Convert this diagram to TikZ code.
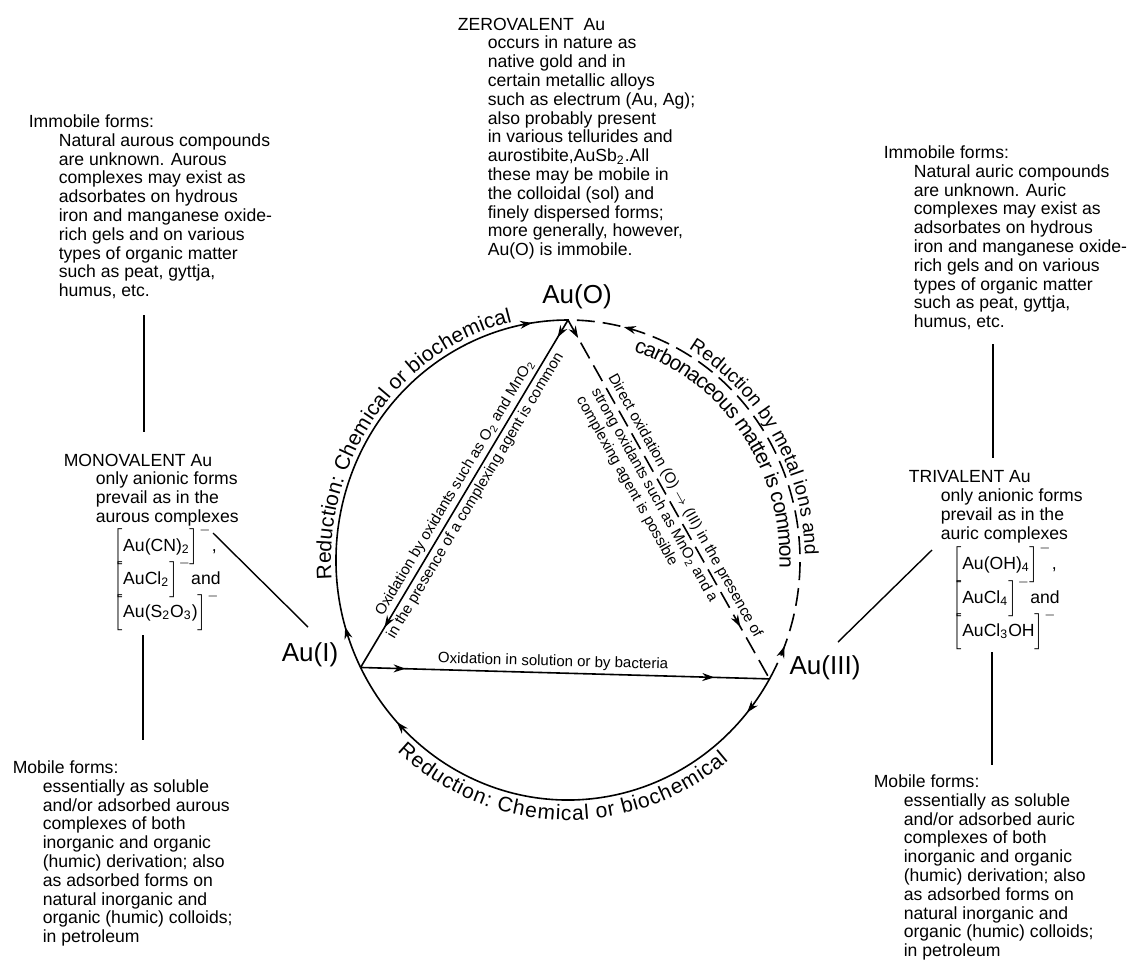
\documentclass[tikz,border=0pt]{standalone}
\usepackage{fontspec}
\setmainfont{Liberation Sans}
\usetikzlibrary{decorations.text,decorations.markings,arrows.meta,calc}
\newcommand\blkind{\hspace*{15pt}}
\newcommand\blkindb{\hspace*{16pt}}
\begin{document}
\begin{tikzpicture}[x=0.5pt,y=0.5pt,line width=0.8pt,
  blk/.style={font=\fontsize{8.8}{9.4}\selectfont, align=left, inner sep=0pt, anchor=north west},
  frm/.style={font=\fontsize{8.8}{9.4}\selectfont, inner sep=0pt, anchor=west},
  big/.style={font=\fontsize{13}{15}\selectfont, inner sep=0pt},
  ctxt/.style={font=\fontsize{7.5}{8.6}\selectfont, inner sep=1.5pt, sloped},
  conn/.style={line width=0.7pt},
  marr/.style={postaction={decorate,decoration={markings,mark=at position #1 with {\arrow{Stealth[length=6pt,width=4pt]}}}}},
  dsh/.style={dash pattern=on 9pt off 4pt},
]
\useasboundingbox (0,0) rectangle (1129,-976);
\coordinate (C) at (568,-560);
\coordinate (A0) at ($(C)+(90:232 and 240)$);
\coordinate (A1) at ($(C)+(206.6:232 and 240)$);
\coordinate (A3) at ($(C)+(330.3:232 and 240)$);

% arcs
\draw[marr=0.09, marr=0.925] (A1) arc[start angle=206.6, end angle=90, x radius=232, y radius=240];
\draw[dsh, marr=0.073, marr=0.886] (A3) arc[start angle=-29.7, end angle=90, x radius=232, y radius=240];
\draw[marr=0.08, marr=0.87] (A3) arc[start angle=330.3, end angle=206.6, x radius=232, y radius=240];

% chords
\draw[marr=0.05, marr=0.885] (A0) -- (A1);
\draw[dsh, marr=0.05, marr=0.855] (A0) -- (A3);
\draw[marr=0.11, marr=0.865] (A1) -- (A3);

% arc texts
\path[decorate, decoration={text along path, text={|\fontsize{10.5}{12}\selectfont|Reduction: Chemical or biochemical}, text align={left indent=46pt}, raise=2.5pt}]
  (A1) arc[start angle=206.6, end angle=90, x radius=232, y radius=240];
\path[decorate, decoration={text along path, text={|\fontsize{10.5}{12}\selectfont|Reduction: Chemical or biochemical}, text align=center, raise=-10pt}]
  (A1) arc[start angle=206.6, end angle=330.3, x radius=232, y radius=240];
\path[decorate, decoration={text along path, text={|\fontsize{9.6}{12}\selectfont|Reduction by metal ions and}, text align={left indent=62pt}, raise=2.5pt}]
  (A0) arc[start angle=90, end angle=-29.7, x radius=232, y radius=240];
\path[decorate, decoration={text along path, text={|\fontsize{10.5}{12}\selectfont|carbonaceous matter is common}, text align={left indent=37pt}, raise=-10.2pt}]
  (A0) arc[start angle=90, end angle=-29.7, x radius=232, y radius=240];

% chord texts
\path (A1) -- (A0)
  node[ctxt, pos=0.5, above] (lc1) {Oxidation by oxidants such as O\textsubscript{2} and MnO\textsubscript{2}}
  node[ctxt, pos=0.51, below] (lc2) {in the presence of a complexing agent is common};
\path (A0) -- (A3)
  node[ctxt, pos=0.16, anchor=south west] (rc1) {Direct oxidation (O) $\rightarrow$ (III) in the presence of}
  node[ctxt, pos=0.17, anchor=north west, align=left] (rc2) {strong oxidants such as MnO\textsubscript{2} and a\\complexing agent is possible};
\path (A1) -- (A3)
  node[ctxt, pos=0.47, above] (bc) {Oxidation in solution or by bacteria};

% big labels
\node[big] (au0) at (577,-297) {Au(O)};
\node[big] (au1) at (310,-655) {Au(I)};
\node[big] (au3) at (825,-668) {Au(III)};

% text blocks
\node[blk] (zero) at (457,-17) {ZEROVALENT\ \ Au\\
\blkind occurs in nature as\\
\blkind native gold and in\\
\blkind certain metallic alloys\\
\blkind such as electrum (Au, Ag);\\
\blkind also probably present\\
\blkind in various tellurides and\\
\blkind aurostibite,AuSb\textsubscript{2}.All\\
\blkind these may be mobile in\\
\blkind the colloidal (sol) and\\
\blkind finely dispersed forms;\\
\blkind more generally, however,\\
\blkind Au(O) is immobile.};

\node[blk] (limm) at (28,-114) {Immobile forms:\\
\blkind Natural aurous compounds\\
\blkind are unknown. Aurous\\
\blkind complexes may exist as\\
\blkind adsorbates on hydrous\\
\blkind iron and manganese oxide-\\
\blkind rich gels and on various\\
\blkind types of organic matter\\
\blkind such as peat, gyttja,\\
\blkind humus, etc.};

\node[blk] (rimm) at (883,-145) {Immobile forms:\\
\blkind Natural auric compounds\\
\blkind are unknown. Auric\\
\blkind complexes may exist as\\
\blkind adsorbates on hydrous\\
\blkind iron and manganese oxide-\\
\blkind rich gels and on various\\
\blkind types of organic matter\\
\blkind such as peat, gyttja,\\
\blkind humus, etc.};

\node[blk] (mono) at (63,-453) {MONOVALENT Au\\
\blkindb only anionic forms\\
\blkindb prevail as in the\\
\blkindb aurous complexes};
\node[frm] (mf1) at (113,-545) {$\Big[$Au(CN)\textsubscript{2}$\Big]^{-}$,};
\node[frm] (mf2) at (113,-578) {$\Big[$AuCl\textsubscript{2}$\Big]^{-}$and};
\node[frm] (mf3) at (113,-611) {$\Big[$Au(S\textsubscript{2}O\textsubscript{3})$\Big]^{-}$};

\node[blk] (tri) at (908,-470) {TRIVALENT Au\\
\blkindb only anionic forms\\
\blkindb prevail as in the\\
\blkindb auric complexes};
\node[frm] (tf1) at (952,-563) {$\Big[$Au(OH)\textsubscript{4}$\Big]^{-}$,};
\node[frm] (tf2) at (952,-597) {$\Big[$AuCl\textsubscript{4}$\Big]^{-}$and};
\node[frm] (tf3) at (952,-630) {$\Big[$AuCl\textsubscript{3}OH$\Big]^{-}$};

\node[blk] (lmob) at (12,-760) {Mobile forms:\\
\blkind essentially as soluble\\
\blkind and/or adsorbed aurous\\
\blkind complexes of both\\
\blkind inorganic and organic\\
\blkind (humic) derivation; also\\
\blkind as adsorbed forms on\\
\blkind natural inorganic and\\
\blkind organic (humic) colloids;\\
\blkind in petroleum};

\node[blk] (rmob) at (873,-774) {Mobile forms:\\
\blkind essentially as soluble\\
\blkind and/or adsorbed auric\\
\blkind complexes of both\\
\blkind inorganic and organic\\
\blkind (humic) derivation; also\\
\blkind as adsorbed forms on\\
\blkind natural inorganic and\\
\blkind organic (humic) colloids;\\
\blkind in petroleum};

% connector lines
\coordinate (lu1) at (144,-315); \coordinate (lu2) at (144,-432);
\coordinate (ld1) at (213,-533); \coordinate (ld2) at (308,-627);
\coordinate (ll1) at (143,-635); \coordinate (ll2) at (143,-740);
\coordinate (ru1) at (993,-344); \coordinate (ru2) at (993,-458);
\coordinate (rd1) at (932,-550); \coordinate (rd2) at (838,-642);
\coordinate (rl1) at (992,-652); \coordinate (rl2) at (992,-765);
\draw[conn] (lu1) -- (lu2);
\draw[conn] (ld1) -- (ld2);
\draw[conn] (ll1) -- (ll2);
\draw[conn] (ru1) -- (ru2);
\draw[conn] (rd1) -- (rd2);
\draw[conn] (rl1) -- (rl2);
\end{tikzpicture}
\end{document}
